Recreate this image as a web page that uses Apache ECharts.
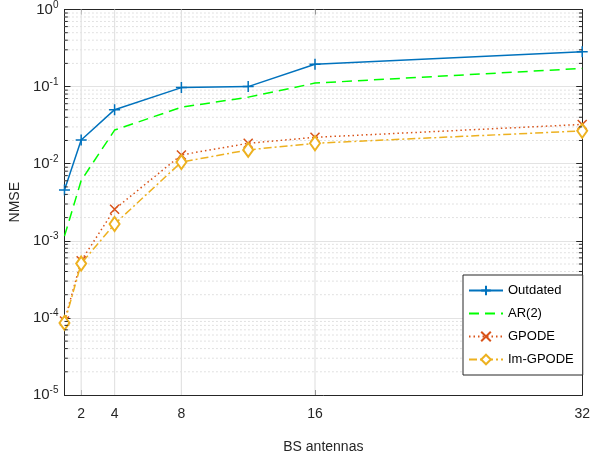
<!DOCTYPE html>
<html>
<head>
<meta charset="utf-8">
<script src="https://cdn.jsdelivr.net/npm/echarts@6/dist/echarts.min.js"></script>
<style>html,body{margin:0;padding:0;background:#fff}#c{width:593px;height:459px}</style>
</head>
<body>
<div id="c"></div>
<script>
const xValues = [1, 2, 4, 8, 12, 16, 32];
const xTickLabels = [2, 4, 8, 16, 32];
const outdated = [4.55e-3, 0.0203, 0.0502, 0.097, 0.100, 0.195, 0.284];
const ar2 = [1.15e-3, 6.05e-3, 0.0273, 0.054, 0.073, 0.111, 0.172];
const gpode = [9.1e-5, 5.5e-4, 2.57e-3, 0.013, 0.0184, 0.022, 0.0323];
const imgpode = [8.6e-5, 5.07e-4, 1.65e-3, 0.0105, 0.0151, 0.0184, 0.0267];
const seriesNames = ['Outdated', 'AR(2)', 'GPODE', 'Im-GPODE'];

const FONT = 'Liberation Sans, Arial, Helvetica, sans-serif';
const AX = '#262626';

function pairs(ys) { return xValues.map((x, i) => [x, ys[i]]); }

// minor log grid values (2..9 per decade)
const minorY = [];
for (let e = -5; e < 0; e++) for (let k = 2; k <= 9; k++) minorY.push(k * Math.pow(10, e));
const vGrid = [2, 4, 8, 16];
const X_MIN = 1, X_MAX = 32, TICK_LEN = 0.2;

const gridSeries = [];
minorY.forEach(v => gridSeries.push({
  type: 'line', silent: true, symbol: 'none', z: 1, clip: false,
  data: [[X_MIN, v], [X_MAX, v]],
  lineStyle: { type: [1, 3], color: '#c4c4c4', width: 1 }
}));
vGrid.forEach(v => gridSeries.push({
  type: 'line', silent: true, symbol: 'none', z: 1, clip: false,
  data: [[v, 1e-5], [v, 1]],
  lineStyle: { type: 'solid', color: '#e3e3e3', width: 1.2 }
}));
// minor ticks on left and right box edges
minorY.forEach(v => {
  gridSeries.push({
    type: 'line', silent: true, symbol: 'none', z: 4, clip: false,
    data: [[X_MIN, v], [X_MIN + TICK_LEN, v]],
    lineStyle: { color: AX, width: 1 }
  });
  gridSeries.push({
    type: 'line', silent: true, symbol: 'none', z: 4, clip: false,
    data: [[X_MAX - TICK_LEN, v], [X_MAX, v]],
    lineStyle: { color: AX, width: 1 }
  });
});

const chart = echarts.init(document.getElementById('c'));
const supLabel = {
  formatter: v => '{b|10}{s|' + Math.round(Math.log10(v)) + '}',
  rich: {
    b: { fontSize: 15, fontFamily: FONT, color: AX },
    s: { fontSize: 10, fontFamily: FONT, color: AX, padding: [0, 0, 9, 0] }
  },
  margin: 6
};
chart.setOption({
  animation: false,
  textStyle: { fontFamily: FONT },
  grid: { left: 64, right: 8, top: 8, bottom: 61, containLabel: false },
  legend: {
    data: [
      { name: 'Outdated' },
      { name: 'AR(2)', itemStyle: { opacity: 0 } },
      { name: 'GPODE' },
      { name: 'Im-GPODE' }
    ],
    orient: 'vertical',
    left: 463, top: 275, z: 10,
    padding: [9, 9, 9, 5],
    itemWidth: 34, itemHeight: 12, itemGap: 10,
    backgroundColor: '#fff',
    borderColor: AX, borderWidth: 1,
    borderRadius: 0,
    textStyle: { fontSize: 13, color: '#000', fontFamily: FONT }
  },
  xAxis: [{
    type: 'value', min: X_MIN, max: X_MAX, position: 'bottom',
    name: 'BS antennas', nameLocation: 'middle', nameGap: 45,
    nameTextStyle: { fontSize: 14, color: AX, fontFamily: FONT },
    axisLine: { show: true, onZero: false, lineStyle: { color: AX, width: 1 } },
    axisTick: { show: true, inside: true, length: 5, customValues: xTickLabels, lineStyle: { color: AX } },
    axisLabel: { customValues: xTickLabels, fontSize: 14, color: AX, margin: 12, fontFamily: FONT },
    splitLine: { show: false }
  }, {
    type: 'value', min: X_MIN, max: X_MAX, position: 'top',
    axisLine: { show: true, onZero: false, lineStyle: { color: AX, width: 1 } },
    axisTick: { show: true, inside: true, length: 5, customValues: xTickLabels, lineStyle: { color: AX } },
    axisLabel: { show: false },
    splitLine: { show: false }
  }],
  yAxis: [{
    type: 'log', logBase: 10, min: 1e-5, max: 1, position: 'left',
    name: 'NMSE', nameLocation: 'middle', nameGap: 41, nameRotate: 90,
    nameTextStyle: { fontSize: 14, color: AX, fontFamily: FONT },
    axisLine: { show: true, onZero: false, lineStyle: { color: AX, width: 1 } },
    axisTick: { show: true, inside: true, length: 6, lineStyle: { color: AX } },
    axisLabel: supLabel,
    splitLine: { show: true, lineStyle: { color: '#e3e3e3', width: 1.2 } }
  }, {
    type: 'log', logBase: 10, min: 1e-5, max: 1, position: 'right',
    axisLine: { show: true, onZero: false, lineStyle: { color: AX, width: 1 } },
    axisTick: { show: true, inside: true, length: 6, lineStyle: { color: AX } },
    axisLabel: { show: false },
    splitLine: { show: false }
  }],
  series: gridSeries.concat([{
    name: 'Outdated', type: 'line', data: pairs(outdated), clip: false, z: 3,
    symbol: 'path://M5,0L5,10M0,5L10,5', symbolSize: 11,
    itemStyle: { color: '#0072BD', borderColor: '#0072BD', borderWidth: 1.5 },
    lineStyle: { color: '#0072BD', width: 1.5, type: 'solid' }
  }, {
    name: 'AR(2)', type: 'line', data: pairs(ar2), clip: false, z: 3,
    symbol: 'none',
    itemStyle: { color: '#00FF00' },
    lineStyle: { color: '#00FF00', width: 1.5, type: [10, 6] }
  }, {
    name: 'GPODE', type: 'line', data: pairs(gpode), clip: false, z: 3,
    symbol: 'path://M0,0L10,10M10,0L0,10', symbolSize: 9,
    itemStyle: { color: '#D95319', borderColor: '#D95319', borderWidth: 1.5 },
    lineStyle: { color: '#D95319', width: 1.5, type: [1.5, 3] }
  }, {
    name: 'Im-GPODE', type: 'line', data: pairs(imgpode), clip: false, z: 3,
    symbol: 'emptyDiamond', symbolSize: [10, 14],
    itemStyle: { color: '#EDB120', borderColor: '#EDB120', borderWidth: 1.5 },
    lineStyle: { color: '#EDB120', width: 1.5, type: [8, 3, 2, 3] }
  }])
});
</script>
</body>
</html>
